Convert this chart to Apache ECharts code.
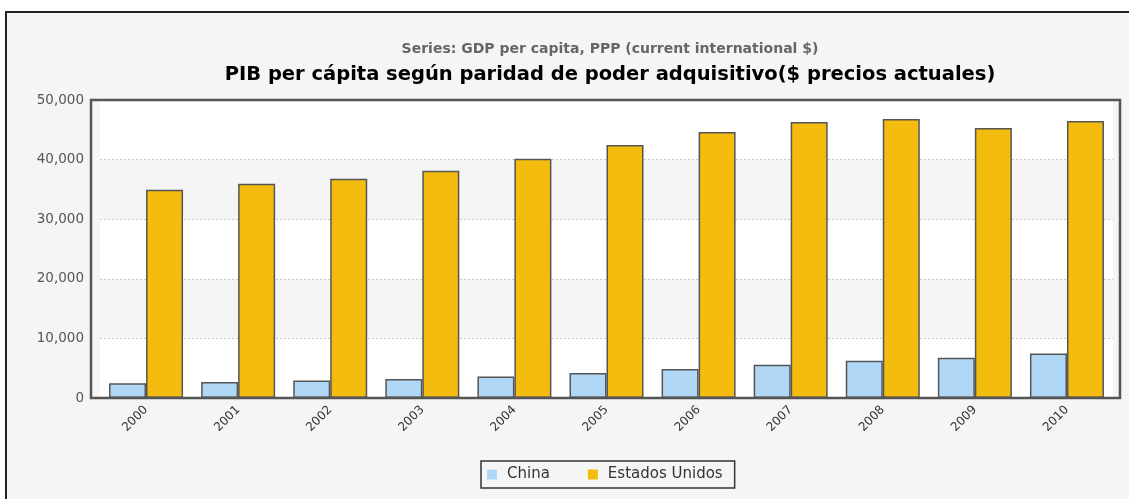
<!DOCTYPE html>
<html>
<head>
<meta charset="utf-8">
<script src="https://cdn.jsdelivr.net/npm/echarts@6/dist/echarts.min.js"></script>
<style>
  html, body { margin: 0; padding: 0; background: #fff; }
  #chart { width: 1129px; height: 499px; }
</style>
</head>
<body>
<div id="chart"></div>
<script>
// años
const years = ['2000', '2001', '2002', '2003', '2004', '2005', '2006', '2007', '2008', '2009', '2010']
// PIB per cápita PPA
const china = [2460, 2680, 2950, 3180, 3610, 4180, 4850, 5570, 6240, 6740, 7460]
const usa = [34950, 35950, 36790, 38130, 40130, 42470, 44650, 46320, 46820, 45320, 46490]
const yTicks = [0, 10000, 20000, 30000, 40000, 50000]

const chart = echarts.init(document.getElementById('chart'))

const barBorder = { borderColor: '#555', borderWidth: 1.5 }

const option = {
  animation: false,
  textStyle: { fontFamily: 'DejaVu Sans' },
  graphic: [
    // marco exterior
    { type: 'rect', z: -10, shape: { x: 6, y: 12, width: 1200, height: 600 },
      style: { fill: '#f5f5f5', stroke: '#222', lineWidth: 2 } },
    // marco del área de trazado
    { type: 'rect', z: 10, shape: { x: 91, y: 100, width: 1029, height: 298 },
      style: { fill: 'none', stroke: '#555', lineWidth: 2.5 } }
  ],
  title: [
    {
      text: 'Series: GDP per capita, PPP (current international $)',
      left: 605, top: 37, textAlign: 'center',
      textStyle: { fontSize: 14, fontWeight: 'bold', color: '#666', fontFamily: 'DejaVu Sans' }
    },
    {
      text: 'PIB per cápita según paridad de poder adquisitivo($ precios actuales)',
      left: 605, top: 60, textAlign: 'center',
      textStyle: { fontSize: 19.5, fontWeight: 'bold', color: '#000', fontFamily: 'DejaVu Sans' }
    }
  ],
  legend: {
    bottom: 11,
    left: 481,
    itemWidth: 10,
    itemHeight: 10,
    itemGap: 38,
    padding: [6, 12, 6, 6],
    borderColor: '#333',
    borderWidth: 1.5,
    backgroundColor: '#f5f5f5',
    icon: 'rect',
    itemStyle: { borderWidth: 0 },
    textStyle: { fontSize: 15, color: '#333', fontFamily: 'DejaVu Sans', padding: [0, 0, 0, 5] },
    data: ['China', 'Estados Unidos']
  },
  grid: { left: 100, right: 16, top: 100, bottom: 101 },
  xAxis: {
    type: 'category',
    data: years,
    axisLine: { show: false },
    axisTick: { show: false },
    axisLabel: { rotate: 45, fontSize: 12, color: '#333', margin: 10 }
  },
  yAxis: {
    type: 'value',
    min: 0,
    max: 50000,
    interval: 10000,
    axisLine: { show: false },
    axisTick: { show: false },
    axisLabel: {
      fontSize: 13.5, color: '#555', margin: 16,
      formatter: v => yTicks.includes(v) ? v.toLocaleString('en-US') : ''
    },
    splitLine: { show: true, lineStyle: { color: '#ccc', type: [2, 2], width: 1 } },
    splitArea: { show: true, areaStyle: { color: ['#ffffff', '#f5f5f5'] } }
  },
  series: [
    {
      name: 'China',
      type: 'bar',
      data: china,
      barWidth: 37,
      barGap: '0%',
      itemStyle: Object.assign({ color: '#b0d8f6' }, barBorder)
    },
    {
      name: 'Estados Unidos',
      type: 'bar',
      data: usa,
      barWidth: 37,
      itemStyle: Object.assign({ color: '#f5bc10' }, barBorder)
    }
  ]
}

chart.setOption(option)
</script>
</body>
</html>
